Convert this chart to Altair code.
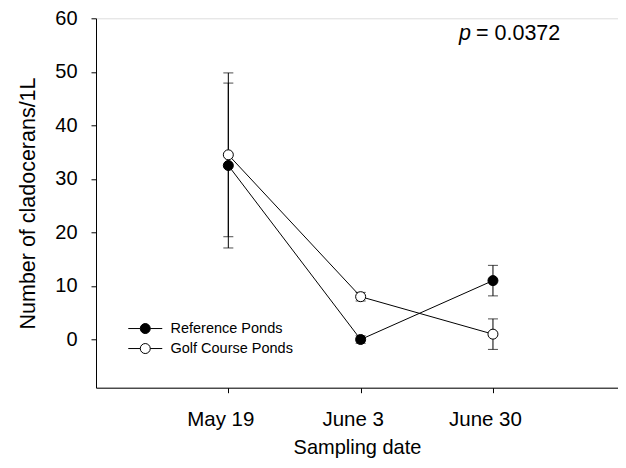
import altair as alt
import pandas as pd

dates = ["May 19", "June 3", "June 30"]
series = ["Reference Ponds", "Golf Course Ponds"]
ref_mean = [32.5, 0.0, 11.0]
ref_err = [15.4, 0.7, 2.85]
golf_mean = [34.5, 8.0, 1.0]
golf_err = [15.3, 0.8, 2.85]
y_ticks = [0, 10, 20, 30, 40, 50, 60]
p_value_text = "= 0.0372"

rows = []
for s, means, errs in [(series[0], ref_mean, ref_err), (series[1], golf_mean, golf_err)]:
    for i, (d, m, e) in enumerate(zip(dates, means, errs)):
        rows.append({"date": d, "pos": i + 1, "series": s, "mean": m,
                     "lo": m - e, "hi": m + e})
df = pd.DataFrame(rows)

FONT = "Liberation Sans"
W, H = 522, 369.4

label_expr = "[" + ",".join(f"'{d}'" for d in dates) + "][datum.value - 1]"

x_axis = alt.Axis(values=[1, 2, 3], labelExpr=label_expr, title="Sampling date",
                  grid=False, tickSize=5, labelPadding=17, labelFontSize=20.5,
                  titleFontSize=20, titlePadding=7, labelOffset=-8,
                  domainColor="black", tickColor="black", labelColor="black",
                  titleColor="black", titleFontWeight="normal", labelFont=FONT,
                  titleFont=FONT)
y_axis = alt.Axis(values=y_ticks, title="Number of cladocerans/1L", grid=False,
                  tickSize=5, labelPadding=14, labelFontSize=20, titleFontSize=21.5,
                  titlePadding=15, domainColor="black", tickColor="black",
                  labelColor="black", titleColor="black", titleFontWeight="normal",
                  labelFont=FONT, titleFont=FONT)
x_scale = alt.Scale(domain=[0, 3.945], nice=False, zero=False)
y_scale = alt.Scale(domain=[-9, 60], nice=False, zero=False)

X = alt.X("pos:Q", scale=x_scale, axis=x_axis)
Y = alt.Y("mean:Q", scale=y_scale, axis=y_axis)

base = alt.Chart(df)

bars = base.mark_rule(color="black", strokeWidth=1).encode(
    x=X, y=alt.Y("lo:Q", scale=y_scale, axis=y_axis), y2="hi:Q")
cap_lo = base.mark_tick(color="black", orient="horizontal", size=10, thickness=1).encode(
    x=X, y=alt.Y("lo:Q", scale=y_scale, axis=y_axis))
cap_hi = base.mark_tick(color="black", orient="horizontal", size=10, thickness=1).encode(
    x=X, y=alt.Y("hi:Q", scale=y_scale, axis=y_axis))
lines = base.mark_line(color="black", strokeWidth=1).encode(
    x=X, y=Y, detail="series:N", order="pos:Q")

sym = "M-3.4,0H-1M1,0H3.4M1,0A1,1,0,1,1,-1,0A1,1,0,1,1,1,0Z"
points = base.mark_point(filled=True, size=100, stroke="black", strokeWidth=1,
                         opacity=1).encode(
    x=X, y=Y,
    fill=alt.Fill("series:N", scale=alt.Scale(domain=series, range=["black", "white"]),
                  legend=alt.Legend(title=None, orient="none", legendX=42, legendY=303,
                                    symbolType=sym, symbolSize=100,
                                    symbolStrokeColor="black", symbolStrokeWidth=1,
                                    labelOffset=18, labelFontSize=14.5, labelFont=FONT,
                                    labelColor="black", rowPadding=4, padding=0,
                                    labelLimit=300)),
)

p_italic = alt.Chart(pd.DataFrame({"t": ["p"]})).mark_text(
    font=FONT, fontSize=21.5, fontStyle="italic", align="right", baseline="alphabetic",
    color="black").encode(x=alt.value(375), y=alt.value(21.5), text="t:N")
p_rest = alt.Chart(pd.DataFrame({"t": [p_value_text]})).mark_text(
    font=FONT, fontSize=21.5, align="left", baseline="alphabetic",
    color="black").encode(x=alt.value(380), y=alt.value(21.5), text="t:N")

chart = alt.layer(bars, cap_lo, cap_hi, lines, points, p_italic, p_rest).properties(
    width=W, height=H,
    autosize=alt.AutoSizeParams(type="none"),
    padding={"left": 88, "top": 10.3, "right": 0, "bottom": 72},
).configure_view(stroke=None).configure(background="white")

chart.save("out.html", embed_options={"renderer": "svg", "actions": False})
